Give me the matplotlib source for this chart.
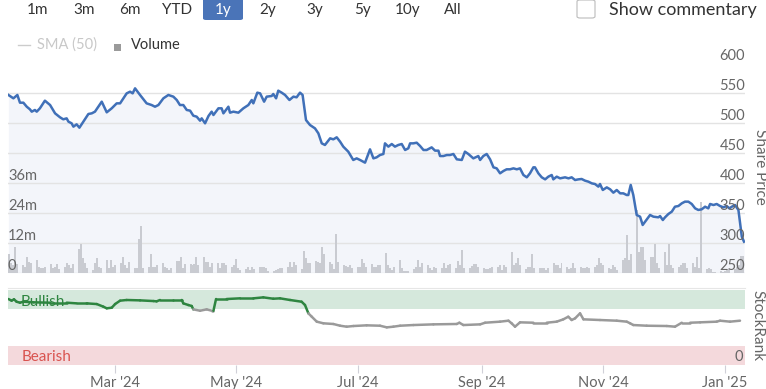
import matplotlib
matplotlib.use("Agg")
import matplotlib.pyplot as plt
import matplotlib.dates as mdates
import matplotlib.transforms as mtrans
from matplotlib.collections import LineCollection
from matplotlib.patches import FancyBboxPatch, Rectangle
from matplotlib.lines import Line2D
import numpy as np
import pandas as pd

plt.rcParams['font.family'] = ['Lato', 'DejaVu Sans']

# share price, day number counted from 1 Jan 2024
price_day = [6.7, 9.2, 11.2, 12.5, 14.2, 15.9, 17.5, 18.4, 20.0, 20.9, 22.5, 25.0, 27.6, 30.1,
             32.6, 34.2, 35.9, 36.8, 38.4, 39.3, 40.9, 42.3, 44.3, 46.8, 48.5, 50.1, 53.5, 56.0,
             58.5, 61.0, 62.7, 66.0, 67.7, 69.0, 70.2, 72.7, 76.0, 78.5, 80.2, 81.9, 84.4, 86.9,
             89.4, 91.1, 92.7, 94.4, 96.1, 97.8, 99.4, 101.1, 102.8, 103.6, 105.3, 107.0, 108.6,
             109.5, 112.0, 113.6, 114.5, 117.0, 117.8, 119.5, 122.0, 124.5, 127.0, 128.7, 129.5,
             131.5, 132.9, 134.9, 136.2, 138.7, 139.5, 140.9, 142.0, 143.7, 145.4, 147.6, 149.6,
             151.2, 152.9, 154.2, 155.9, 157.9, 160.4, 162.1, 163.8, 165.4, 168.0, 169.6, 171.3,
             173.0, 174.6, 177.1, 179.6, 181.3, 183.0, 185.5, 188.0, 189.7, 191.3, 193.0, 194.7,
             195.5, 197.2, 198.9, 200.5, 202.2, 203.9, 205.6, 207.2, 208.1, 209.7, 211.4, 213.1,
             214.8, 216.4, 218.9, 220.6, 222.3, 223.1, 224.8, 226.5, 228.1, 229.8, 231.5, 234.0,
             235.6, 237.3, 239.8, 242.3, 243.2, 244.8, 246.5, 248.2, 249.9, 251.5, 253.2, 254.9,
             256.5, 258.2, 259.9, 261.6, 263.2, 264.9, 266.6, 268.2, 269.9, 270.7, 272.4, 274.1,
             275.8, 277.4, 279.1, 279.9, 281.6, 283.3, 285.8, 287.5, 289.1, 290.8, 292.5, 294.1,
             295.8, 297.5, 299.2, 300.8, 302.5, 303.3, 304.7, 306.7, 308.4, 310.0, 311.7, 313.4,
             315.0, 316.7, 317.5, 318.7, 320.0, 321.7, 323.4, 324.7, 325.9, 328.4, 330.1, 332.6,
             333.4, 334.8, 335.9, 337.6, 339.3, 340.9, 342.6, 344.3, 345.9, 347.6, 349.3, 351.0,
             352.6, 354.3, 356.0, 357.6, 358.5, 360.2, 361.8, 363.5, 365.2, 366.8, 368.2, 369.4,
             371.0, 372.7, 374.4, 375.5]
price = [547.2, 541.6, 547.2, 534.3, 534.3, 527.6, 523.2, 519.3, 522.1, 519.3, 524.9, 537.7, 530.4,
         516.5, 509.8, 506.5, 508.1, 502.6, 499.8, 494.2, 498.1, 492.5, 502.6, 515.4, 516.5, 519.3,
         536.0, 518.2, 524.9, 533.2, 533.2, 549.9, 552.7, 549.9, 558.3, 547.2, 533.2, 530.4, 527.6,
         530.4, 541.6, 547.2, 544.4, 538.8, 530.4, 530.4, 522.1, 521.0, 512.6, 510.9, 504.2, 508.1,
         499.8, 512.0, 519.3, 513.7, 524.9, 524.9, 516.5, 527.6, 517.6, 519.3, 517.6, 524.9, 530.4,
         538.8, 533.2, 551.1, 549.9, 536.0, 544.4, 545.5, 548.8, 541.6, 554.4, 551.1, 547.2, 538.8,
         544.4, 543.3, 551.1, 547.2, 505.3, 497.0, 491.4, 483.1, 466.3, 463.6, 474.7, 473.0, 476.4,
         469.1, 460.8, 452.4, 438.5, 441.2, 438.5, 434.0, 456.3, 441.2, 442.9, 446.8, 448.5, 466.3,
         460.8, 465.2, 460.8, 463.6, 465.2, 455.2, 458.0, 466.3, 466.3, 467.4, 461.9, 455.2, 455.2,
         459.6, 454.1, 454.1, 445.1, 445.1, 446.8, 446.8, 448.5, 439.6, 438.5, 452.4, 448.5, 441.2,
         445.1, 438.5, 445.1, 448.5, 439.6, 426.2, 424.5, 416.2, 420.1, 422.9, 422.9, 424.5, 422.9,
         424.5, 413.4, 409.5, 416.2, 426.2, 426.2, 416.2, 409.5, 406.1, 410.6, 413.4, 406.1, 410.6,
         407.8, 409.5, 407.8, 409.5, 405.0, 406.1, 406.7, 403.9, 402.2, 399.4, 398.3, 393.9, 398.3,
         388.3, 392.7, 389.4, 383.8, 388.3, 382.7, 382.7, 379.9, 379.9, 396.7, 379.9, 346.5, 343.7,
         329.8, 335.3, 346.5, 343.7, 342.6, 344.8, 338.1, 342.6, 348.2, 352.1, 360.4, 361.5, 366.0,
         368.8, 368.8, 364.9, 357.6, 354.9, 356.0, 360.4, 357.6, 364.9, 363.2, 364.9, 361.5, 359.3,
         361.5, 357.6, 360.4, 363.2, 354.9, 310.3, 301.9]

# daily volume in millions, business days from 8 Jan 2024
volume_start = '2024-01-08'
volume_m = [7.5, 3.7, 3.1, 10.4, 3.5, 3.1, 2.4, 6.4, 4.4, 4.0, 5.1, 2.1, 1.7, 1.7, 2.4,
            3.5, 1.7, 2.4, 3.5, 1.3, 2.4, 3.7, 3.1, 1.7, 3.5, 9.7, 11.7, 5.7, 4.0, 1.7,
            1.1, 4.0, 5.7, 2.4, 1.7, 5.1, 1.7, 5.1, 2.1, 3.1, 4.0, 6.4, 3.1, 1.7, 4.4,
            1.7, 1.7, 13.7, 18.8, 1.7, 2.4, 7.7, 2.4, 2.4, 3.1, 4.0, 2.4, 1.7, 1.1, 1.7,
            4.8, 4.8, 6.4, 1.7, 3.5, 3.5, 3.1, 3.5, 6.4, 3.1, 6.4, 4.4, 4.4, 2.4, 3.7,
            4.0, 1.7, 3.7, 3.7, 3.1, 2.4, 3.1, 5.3, 1.7, 1.1, 1.3, 2.4, 1.1, 2.1, 1.3,
            2.4, 2.4, 2.1, 1.7, 0.8, 0.8, 1.1, 1.3, 1.7, 1.7, 2.4, 4.4, 2.4, 4.4, 3.1,
            1.3, 8.8, 5.7, 4.0, 3.7, 4.8, 4.4, 4.0, 10.4, 7.5, 4.4, 3.5, 1.3, 15.5, 4.4,
            3.1, 2.7, 2.1, 3.1, 1.7, 2.4, 2.4, 5.3, 4.0, 2.4, 3.5, 2.4, 2.4, 3.1, 3.1,
            8.0, 3.1, 1.7, 1.1, 2.4, 5.1, 1.7, 0.8, 0.8, 0.8, 1.3, 2.4, 5.1, 2.4, 3.7,
            3.1, 1.7, 1.1, 2.1, 1.7, 1.7, 3.7, 1.7, 3.1, 3.5, 1.7, 4.8, 3.1, 9.1, 1.7,
            1.7, 2.7, 3.5, 3.5, 2.1, 1.7, 1.3, 1.3, 1.7, 2.4, 2.4, 3.1, 1.1, 3.1, 2.4,
            8.4, 3.1, 4.0, 5.7, 3.1, 1.3, 2.1, 2.1, 7.7, 1.7, 1.7, 1.7, 1.7, 1.1, 1.7,
            4.0, 3.1, 3.1, 1.7, 3.7, 2.4, 1.3, 1.7, 3.7, 1.7, 2.1, 1.7, 1.7, 2.4, 1.7,
            2.4, 3.1, 5.7, 4.0, 3.1, 1.7, 1.3, 3.1, 2.1, 1.1, 5.1, 6.1, 15.1, 5.1, 7.7,
            25.1, 8.4, 10.4, 10.4, 5.1, 6.4, 6.4, 11.7, 3.7, 1.7, 8.4, 3.1, 11.7, 3.1, 1.7,
            2.4, 3.1, 4.0, 4.0, 1.7, 4.0, 2.4, 6.4, 1.7, 28.4, 1.3, 1.7, 1.3, 0.4, 0.4,
            0.8, 0.4, 0.8, 1.1, 1.3, 1.3, 2.4, 3.1, 6.7, 6.7]

# StockRank, day number counted from 1 Jan 2024
rank_day = [6.7, 8.3, 9.5, 10.8, 12.5, 14.2, 19.2, 27.6, 35.9, 40.9, 45.9, 51.0, 54.3, 56.0, 58.5,
            60.2, 62.7, 66.0, 72.7, 79.4, 81.0, 82.7, 89.4, 93.6, 94.4, 96.9, 98.6, 99.4, 102.8,
            106.1, 108.6, 109.5, 110.8, 116.1, 122.8, 129.5, 134.5, 139.5, 142.9, 147.9, 153.7,
            155.4, 157.1, 158.8, 161.3, 164.6, 169.6, 173.0, 176.3, 179.7, 186.3, 193.0, 196.4,
            199.7, 203.1, 209.7, 219.8, 231.5, 232.8, 234.8, 243.2, 245.7, 253.2, 257.4, 259.0,
            260.7, 263.2, 269.9, 276.6, 281.6, 284.9, 287.4, 289.1, 290.8, 293.3, 295.0, 303.3,
            311.7, 316.7, 318.4, 320.0, 326.7, 336.8, 340.9, 344.3, 348.5, 353.5, 361.8, 363.5,
            368.5, 373.5]
rank = [88.0, 85.8, 87.6, 84.4, 83.1, 84.4, 83.6, 83.1, 83.1, 82.2, 82.2, 81.3, 77.8, 75.6, 76.4,
        81.3, 85.8, 86.7, 86.2, 85.3, 84.9, 86.7, 86.7, 86.7, 82.2, 80.0, 78.7, 74.2, 72.4, 74.2,
        72.4, 72.4, 88.0, 88.0, 88.9, 88.9, 90.2, 88.4, 88.9, 86.7, 84.4, 80.0, 68.9, 64.4, 57.8,
        55.6, 54.7, 52.4, 51.1, 52.0, 52.9, 52.4, 50.2, 51.1, 52.4, 53.3, 54.2, 54.7, 56.4, 53.3,
        54.2, 56.4, 57.8, 59.1, 55.6, 51.1, 56.9, 56.4, 56.4, 57.8, 60.9, 64.4, 60.0, 62.2, 68.9,
        60.9, 60.0, 59.1, 57.8, 55.6, 53.3, 52.4, 52.0, 51.1, 56.4, 56.4, 56.9, 57.8, 59.1, 57.8,
        59.1]

price_ticks = [250, 300, 350, 400, 450, 500, 550, 600]
vol_ticks = [0, 12, 24, 36]
month_ticks = ['2024-03-01', '2024-05-01', '2024-07-01', '2024-09-01', '2024-11-01', '2025-01-01']
range_buttons = ['1m', '3m', '6m', 'YTD', '1y', '2y', '3y', '5y', '10y', 'All']
button_x = [38, 84, 130, 177, 223, 268, 315, 362, 408, 453]

W, H = 766, 389


def fx(px):
    return px / W


def fy(py):
    return 1 - py / H


base = mdates.date2num(np.datetime64('2024-01-01'))
xp = base + np.array(price_day)
xr = base + np.array(rank_day)
xv = mdates.date2num(pd.bdate_range(volume_start, periods=len(volume_m)))
xlim = (base + 6.5, base + 376.0)

fig = plt.figure(figsize=(W / 100, H / 100), dpi=100)
rect = [fx(8), fy(272.7), fx(745) - fx(8), fy(63.4) - fy(272.7)]

# price background: fill + grid
ax_bg = fig.add_axes(rect)
ax_bg.fill_between(xp, price, 250, color='#f3f5fa', lw=0)
ax_bg.set_ylim(250, 600)
ax_bg.set_xlim(*xlim)
for p in price_ticks[:-1]:
    ax_bg.axhline(p, color='#e3e3e3', lw=1)
for s in ax_bg.spines.values():
    s.set_visible(False)
ax_bg.set_yticks([])
ax_bg.tick_params(axis='x', bottom=False, labelbottom=False)

# volume bars
ax_vol = fig.add_axes(rect, sharex=ax_bg)
ax_vol.patch.set_visible(False)
ax_vol.bar(xv, np.array(volume_m) * 1e6, width=1.0, color='#c9cbd1', lw=0)
ax_vol.set_ylim(0, 84e6)
ax_vol.axis('off')
tv = mtrans.blended_transform_factory(ax_vol.transAxes, ax_vol.transData)
for v in vol_ticks:
    ax_vol.text(0.0, v * 1e6, '0' if v == 0 else f'{v}m', transform=tv,
                ha='left', va='bottom', fontsize=10.5, color='#666666')

# price line
ax_px = fig.add_axes(rect, sharex=ax_bg, sharey=ax_bg)
ax_px.patch.set_visible(False)
ax_px.plot(xp, price, color='#4070b8', lw=1.8, solid_joinstyle='round')
ax_px.axis('off')
tp = mtrans.blended_transform_factory(ax_px.transAxes, ax_px.transData)
for p in price_ticks:
    ax_px.text(1.0, p, str(p), transform=tp, ha='right', va='bottom',
               fontsize=10.5, color='#666666')

# StockRank panel
ax_r = fig.add_axes([fx(8), fy(365), fx(745) - fx(8), fy(288) - fy(365)], sharex=ax_bg)
ax_r.set_ylim(0, 102.7)
ax_r.axhspan(75, 100, color='#d5e8dc', lw=0)
ax_r.axhspan(0, 25, color='#f4d9dc', lw=0)
pts = np.column_stack([xr, rank])
segs = np.stack([pts[:-1], pts[1:]], axis=1)
mid = (np.array(rank[:-1]) + np.array(rank[1:])) / 2
cols = ['#2e8540' if m >= 74 else '#9a9a9a' for m in mid]
ax_r.add_collection(LineCollection(segs, colors=cols, lw=1.8, capstyle='round'))
for k in ['left', 'right', 'bottom']:
    ax_r.spines[k].set_visible(False)
ax_r.spines['top'].set_color('#e6e6e6')
ax_r.set_yticks([])
ax_r.set_xticks(mdates.date2num(pd.to_datetime(month_ticks)))
ax_r.xaxis.set_major_formatter(mdates.DateFormatter("%b '%y"))
ax_r.tick_params(axis='x', bottom=True, labelbottom=True, length=6, color='#d0d0d8',
                 labelsize=10.5, labelcolor='#666666', pad=2)
tr = mtrans.blended_transform_factory(ax_r.transAxes, ax_r.transData)
ax_r.text(12.5 / 737, 84, 'Bullish', transform=tr, ha='left', va='center', fontsize=11, color='#2e8540')
ax_r.text(13.5 / 737, 11, 'Bearish', transform=tr, ha='left', va='center', fontsize=11, color='#d9534f')
ax_r.text(0.997, 1, '0', transform=tr, ha='right', va='bottom', fontsize=10.5, color='#666666')

# axis titles
fig.text(fx(760), fy(167), 'Share Price', rotation=-90, ha='center', va='center',
         fontsize=11, color='#666666')
fig.text(fx(757), fy(326), 'StockRank', rotation=-90, ha='center', va='center',
         fontsize=11, color='#666666')

# range selector
for lab, bx in zip(range_buttons, button_x):
    if lab == '1y':
        fig.patches.append(FancyBboxPatch((fx(203), fy(20)), fx(243) - fx(203), fy(-4) - fy(20),
                                          boxstyle='round,pad=0,rounding_size=0.004',
                                          transform=fig.transFigure, fc='#4a74b8', ec='none'))
        fig.text(fx(bx), fy(10), lab, ha='center', va='center', fontsize=11, color='white')
    else:
        fig.text(fx(bx), fy(10), lab, ha='center', va='center', fontsize=11, color='#333333')

fig.patches.append(FancyBboxPatch((fx(577), fy(18)), fx(595) - fx(577), fy(0) - fy(18),
                                  boxstyle='round,pad=0,rounding_size=0.004',
                                  transform=fig.transFigure, fc='white', ec='#bbbbbb', lw=0.8))
fig.text(fx(609), fy(10), 'Show commentary', ha='left', va='center', fontsize=13, color='#333333')

# legend
fig.lines.append(Line2D([fx(18), fx(30)], [fy(45), fy(45)], transform=fig.transFigure,
                        color='#cccccc', lw=1))
fig.text(fx(37), fy(45), 'SMA (50)', ha='left', va='center', fontsize=10.5, color='#c8c8c8')
fig.patches.append(Rectangle((fx(114), fy(51)), fx(121) - fx(114), fy(44) - fy(51),
                             transform=fig.transFigure, fc='#9a9a9a', ec='none'))
fig.text(fx(131), fy(45), 'Volume', ha='left', va='center', fontsize=10.5, color='#333333')

fig.savefig('out.png', dpi=100)
